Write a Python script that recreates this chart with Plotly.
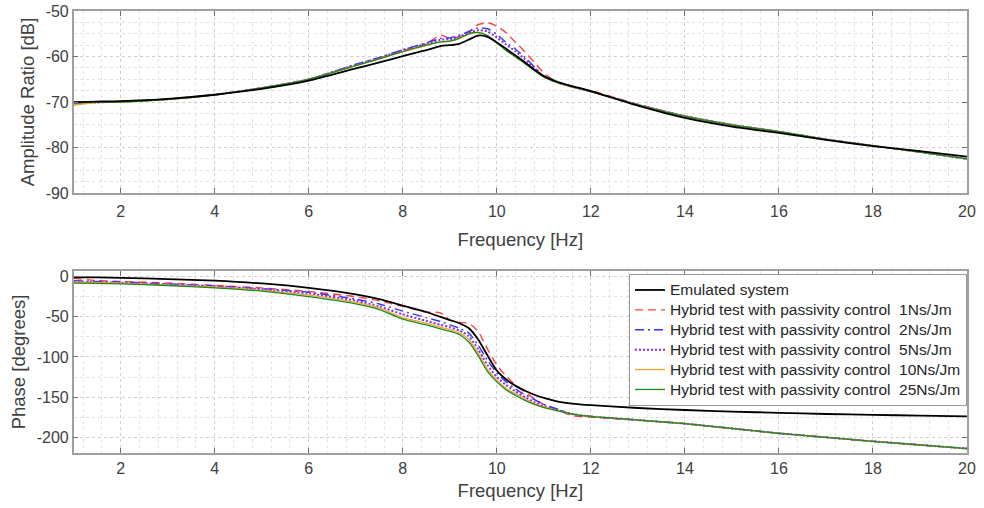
import plotly.graph_objects as go

FREQ = [1, 1.5, 2, 3, 4, 5, 6, 7, 7.5, 8, 8.5, 8.8, 9.0, 9.2, 9.4, 9.6, 9.8, 10.0,
        10.2, 10.4, 10.6, 10.8, 11.0, 11.3, 11.6, 12, 13, 14, 15, 16, 17, 18, 19, 20]

SERIES = ["Emulated system",
          "Hybrid test with passivity control  1Ns/Jm",
          "Hybrid test with passivity control  2Ns/Jm",
          "Hybrid test with passivity control  5Ns/Jm",
          "Hybrid test with passivity control  10Ns/Jm",
          "Hybrid test with passivity control  25Ns/Jm"]

MAG_EMULATED = [-70.0, -69.9, -69.8, -69.3, -68.4, -67.1, -65.3, -62.6, -61.3, -59.9, -58.6, -57.7,
                -57.5, -57.2, -56.3, -55.4, -55.7, -56.9, -58.3, -59.8, -61.3, -62.9, -64.3, -65.6,
                -66.5, -67.6, -70.8, -73.5, -75.4, -76.8, -78.3, -79.7, -80.8, -82.0]
MAG_1NS = [-70.6, -69.9, -70.0, -69.4, -68.4, -66.9, -65.0, -61.9, -60.4, -58.7, -57.2, -55.3,
           -56.0, -55.6, -54.6, -53.0, -52.6, -53.3, -54.8, -56.9, -59.0, -61.3, -63.6, -65.8,
           -66.7, -67.5, -70.5, -73.1, -75.0, -76.5, -78.2, -79.6, -81.0, -82.5]
MAG_2NS = [-70.3, -70.0, -69.9, -69.4, -68.4, -66.9, -65.0, -61.7, -60.2, -58.5, -57.0, -56.0,
           -55.9, -55.3, -54.5, -53.7, -53.9, -55.1, -56.9, -58.4, -60.2, -62.3, -64.3, -65.7,
           -66.6, -67.7, -70.6, -73.1, -75.0, -76.5, -78.2, -79.6, -81.0, -82.5]
MAG_5NS = [-70.2, -70.1, -69.9, -69.4, -68.4, -66.9, -65.0, -61.8, -60.3, -58.6, -57.2, -56.3,
           -56.2, -55.6, -54.8, -54.2, -54.5, -55.8, -57.4, -58.9, -60.6, -62.6, -64.4, -65.7,
           -66.6, -67.7, -70.6, -73.1, -75.0, -76.5, -78.2, -79.6, -81.0, -82.5]
MAG_10NS = [-70.6, -70.1, -70.0, -69.4, -68.4, -66.9, -65.0, -62.0, -60.5, -58.9, -57.6, -56.8,
            -56.6, -56.0, -55.1, -54.8, -55.4, -56.9, -58.5, -59.9, -61.4, -63.0, -64.5, -65.8,
            -66.6, -67.7, -70.6, -73.1, -75.0, -76.5, -78.2, -79.6, -81.0, -82.5]
MAG_25NS = [-70.2, -70.0, -70.0, -69.4, -68.4, -66.9, -65.0, -62.0, -60.5, -58.9, -57.5, -56.8,
            -56.6, -56.0, -55.0, -54.7, -55.4, -57.0, -58.7, -60.1, -61.6, -63.1, -64.5, -65.8,
            -66.6, -67.7, -70.6, -73.1, -75.0, -76.5, -78.2, -79.6, -81.0, -82.5]

PH_EMULATED = [-1, -1, -1.5, -3, -5, -8.5, -14, -22, -28, -36, -44, -50, -54, -58, -64, -78, -98,
               -117, -128, -136, -142, -147, -151, -155.5, -158, -160, -163.5, -166, -168, -169.5,
               -171, -172, -173, -174]
PH_1NS = [-2, -5, -6, -8, -11, -14, -18.5, -25, -30, -37, -44, -45, -54, -57, -58, -68, -90, -110,
          -124, -135, -144, -152, -159, -166, -173, -175, -178.5, -183, -189, -195, -200, -205,
          -209.5, -214]
PH_2NS = [-5, -6, -6.5, -9, -11.5, -15, -19.5, -28, -34, -43, -51, -56, -60, -64, -70, -85, -104,
          -120, -131, -140, -147, -153, -159, -165, -171, -174, -178.5, -183, -189, -195, -200,
          -205, -209.5, -214]
PH_5NS = [-6, -7, -7.5, -10, -12.5, -16, -21, -30, -37, -47, -55, -60, -63, -67, -74, -90, -110,
          -125, -135, -143, -150, -156, -161, -166, -171, -174, -178.5, -183, -189, -195, -200,
          -205, -209.5, -214]
PH_10NS = [-7, -7.5, -8, -10.5, -13, -17, -23, -32, -39, -51, -58, -63, -66, -70, -78, -95, -115,
           -129, -139, -146, -152, -158, -162, -167, -171, -174, -178.5, -183, -189, -195, -200,
           -205, -209.5, -214]
PH_25NS = [-8, -8.5, -9, -11, -14, -18, -25, -34, -41, -53, -60, -65, -68, -72, -81, -98, -118,
           -131, -141, -148, -154, -159, -163, -167, -171, -174, -178.5, -183, -189, -195, -200,
           -205, -209.5, -214]

X_TICKS = [2, 4, 6, 8, 10, 12, 14, 16, 18, 20]
MAG_TICKS = [-90, -80, -70, -60, -50]
PH_TICKS = [-200, -150, -100, -50, 0]

MAGS = [MAG_EMULATED, MAG_1NS, MAG_2NS, MAG_5NS, MAG_10NS, MAG_25NS]
PHS = [PH_EMULATED, PH_1NS, PH_2NS, PH_5NS, PH_10NS, PH_25NS]
STYLES = [dict(color="#000000", width=1.8, dash="solid"),
          dict(color="#ff4040", width=1.4, dash="8px,5px"),
          dict(color="#3535ff", width=1.4, dash="9px,4px,2px,4px"),
          dict(color="#8a2be2", width=2, dash="2px,2px"),
          dict(color="#f5a030", width=1.3, dash="solid"),
          dict(color="#1a8c1a", width=1.3, dash="solid")]

fig = go.Figure()
order = [1, 2, 3, 4, 5, 0]
for i in order:
    fig.add_trace(go.Scatter(x=FREQ, y=MAGS[i], mode="lines",
                             line=dict(**STYLES[i], shape="spline", smoothing=0.6),
                             showlegend=False, xaxis="x", yaxis="y"))
for i in order:
    fig.add_trace(go.Scatter(x=FREQ, y=PHS[i], mode="lines", name=SERIES[i],
                             line=dict(**STYLES[i], shape="spline", smoothing=0.6),
                             showlegend=False, xaxis="x2", yaxis="y2"))
for i in range(6):
    fig.add_trace(go.Scatter(x=[None], y=[None], mode="lines",
                             name='<span style="font-size:15.5px">' + SERIES[i] + "</span>",
                             line=dict(**STYLES[i]), xaxis="x2", yaxis="y2"))

FONT = "Liberation Sans, Arial, sans-serif"
TXT = "#404040"
GRID = "#cfcfcf"
MINOR = "#e3e3e3"
LINE = "#a0a0a0"


def lbl(v):
    return [str(t).replace("\u2212", "-") for t in v]


def xaxis(anchor, standoff, lblstand):
    return dict(domain=[0.0749, 0.9827], range=[1, 20], anchor=anchor, tickvals=X_TICKS,
                ticktext=lbl(X_TICKS), automargin=False, ticklabelstandoff=lblstand,
                ticks="inside", ticklen=5, tickcolor="#707070", showline=True, mirror="ticks",
                linecolor=LINE, linewidth=1.5, showgrid=True, gridcolor=GRID, griddash="dot",
                gridwidth=1, zeroline=False,
                minor=dict(dtick=0.4, tick0=0, showgrid=True, gridcolor=MINOR, griddash="dot", ticks=""),
                tickfont=dict(family=FONT, size=16, color=TXT),
                title=dict(text="Frequency [Hz]", font=dict(family=FONT, size=18.5, color=TXT),
                           standoff=standoff))


def yaxis(domain, rng, ticks, title, anchor, minor):
    return dict(domain=domain, range=rng, anchor=anchor, tickvals=ticks, ticktext=lbl(ticks),
                automargin=False,
                ticks="inside", ticklen=5, tickcolor="#707070", showline=True, mirror="ticks",
                linecolor=LINE, linewidth=1.5, showgrid=True, gridcolor=GRID, griddash="dot",
                zeroline=False,
                minor=dict(dtick=minor, tick0=0, showgrid=True, gridcolor=MINOR, griddash="dot", ticks=""),
                tickfont=dict(family=FONT, size=16, color=TXT),
                title=dict(text=title, font=dict(family=FONT, size=18.5, color=TXT), standoff=6))


fig.update_layout(
    width=984, height=508, margin=dict(l=0, r=0, t=0, b=0),
    paper_bgcolor="white", plot_bgcolor="white",
    font=dict(family=FONT, color=TXT),
    xaxis=xaxis("y", 14, 3),
    xaxis2=xaxis("y2", 8, 0),
    yaxis=yaxis([0.620, 0.9783], [-90, -50], MAG_TICKS, "Amplitude Ratio [dB]", "x", 2.5),
    yaxis2=yaxis([0.1083, 0.4665], [-219.5, 7], PH_TICKS, "Phase [degrees]", "x2", 25),
    legend=dict(x=0.9827, y=0.4606, xanchor="right", yanchor="top", bgcolor="white",
                bordercolor="#9a9a9a", borderwidth=1, font=dict(family=FONT, size=13, color="#262626"),
                tracegroupgap=0, itemwidth=30),
)

fig.write_html("out.html")
